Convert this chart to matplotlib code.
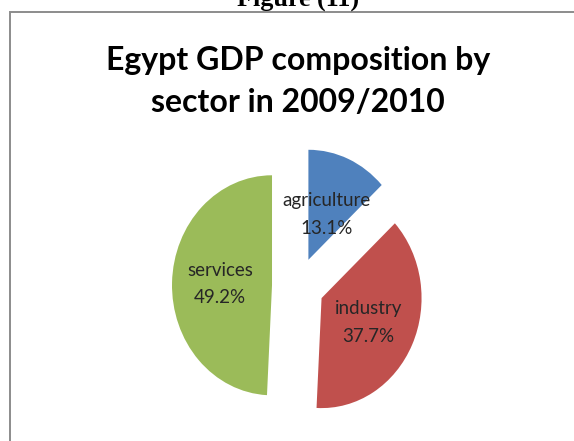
import numpy as np
import matplotlib
matplotlib.use('Agg')
import matplotlib.pyplot as plt
from matplotlib.patches import Rectangle

# GDP shares by sector, in percent
sectors = ['agriculture', 'industry', 'services']
shares = [13.1, 37.7, 49.2]
colors = ['#4F81BD', '#C0504D', '#9BBB59']
# how far out along each wedge the label sits (fraction of radius)
label_dist = [0.45, 0.52, 0.52]

W, H = 574, 441
fig = plt.figure(figsize=(W / 100, H / 100), dpi=100)

# axes fill the figure; limits put the pie centre at (298, 286) px from top-left
ax = fig.add_axes([0, 0, 1, 1])
labels = [f'{s}\n{v:.1f}%' for s, v in zip(sectors, shares)]
wedges, texts = ax.pie(shares, labels=labels, colors=colors, startangle=90,
                       counterclock=False, explode=[0.26] * len(shares),
                       textprops=dict(ha='center', va='center', family='Lato',
                                      fontsize=13.5, color='#262626',
                                      linespacing=1.75),
                       wedgeprops=dict(linewidth=0))
for w, t, d in zip(wedges, texts, label_dist):
    th = np.deg2rad((w.theta1 + w.theta2) / 2)
    t.set_position((w.center[0] + d * w.r * np.cos(th),
                    w.center[1] + d * w.r * np.sin(th)))
ax.set_aspect('auto')
ax.set_xlim(-298 / 100, (W - 298) / 100)
ax.set_ylim(-(H - 286) / 110, 286 / 110)
ax.axis('off')

# chart frame (only left and top edges fall inside the image)
fig.add_artist(Rectangle((10 / W, -0.1), 1.2, 1 - 12 / H + 0.1,
                         transform=fig.transFigure, fill=False,
                         edgecolor='#8c8c8c', linewidth=1.4))

fig.text(298 / W, 1 - 6 / H, 'Figure (11)', ha='center', va='baseline',
         family='Liberation Serif', weight='bold', fontsize=18.8)

fig.text(298 / W, 1 - 70 / H, 'Egypt GDP composition by', ha='center',
         va='baseline', family='Lato', weight='bold', fontsize=23)
fig.text(298 / W, 1 - 112 / H, 'sector in 2009/2010', ha='center',
         va='baseline', family='Lato', weight='bold', fontsize=23)

fig.savefig('out.png', dpi=100)
